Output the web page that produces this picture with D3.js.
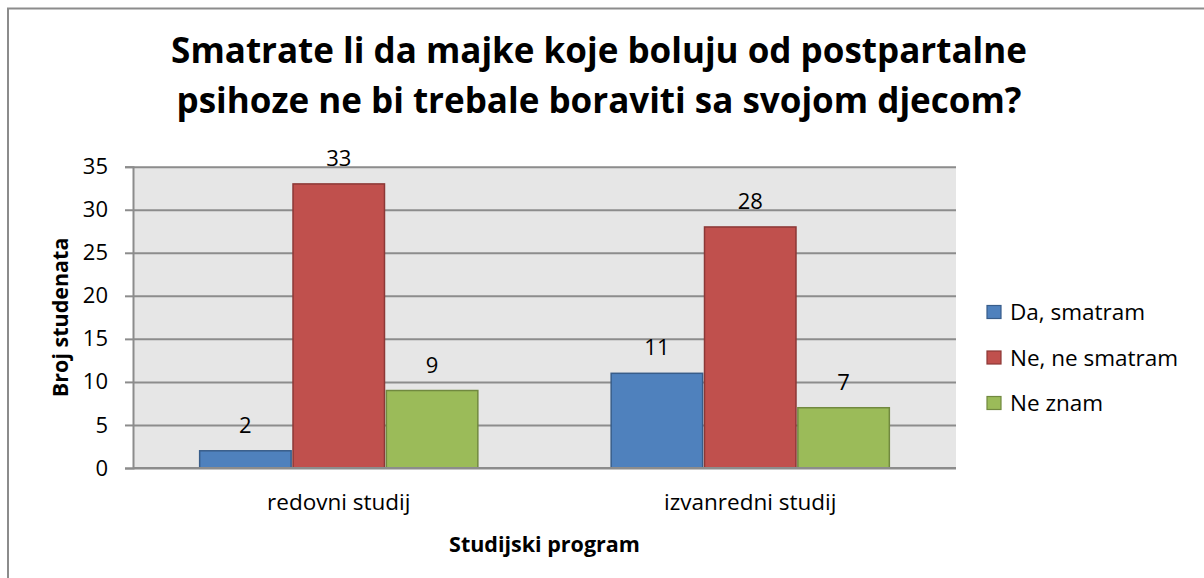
<!DOCTYPE html>
<html>
<head>
<meta charset="utf-8">
<script src="https://cdn.jsdelivr.net/npm/d3@7/dist/d3.min.js"></script>
<style>
  body { margin: 0; background: #fff; }
  svg text { font-family: "Open Sans", "Noto Sans", sans-serif; fill: #000; }
</style>
</head>
<body>
<svg id="chart" width="1204" height="578"></svg>
<script>
var categories = ["redovni studij", "izvanredni studij"];
var seriesNames = ["Da, smatram", "Ne, ne smatram", "Ne znam"];
var daSmatram = [2, 11];
var neSmatram = [33, 28];
var neZnam = [9, 7];
var yTicks = [0, 5, 10, 15, 20, 25, 30, 35];
var titleLines = ["Smatrate li da majke koje boluju od postpartalne",
                  "psihoze ne bi trebale boraviti sa svojom djecom?"];

var fills = ["#4f81bd", "#c0504d", "#9bbb59"];
var strokes = ["#385d8a", "#8c3836", "#71893f"];
var values = [daSmatram, neSmatram, neZnam];

var svg = d3.select("#chart");

// outer chart frame (runs off the right/bottom edge like the source)
svg.append("rect")
  .attr("x", 8).attr("y", 8.5)
  .attr("width", 1300).attr("height", 700)
  .attr("fill", "#fff").attr("stroke", "#8c8c8c").attr("stroke-width", 2);

var pLeft = 133, pRight = 956, pTop = 166.7, pBottom = 468;

var y = d3.scaleLinear().domain([0, 35]).range([pBottom, pTop]);
var x0 = d3.scaleBand().domain(categories).range([pLeft, pRight])
  .paddingInner(0.324).paddingOuter(0.162);
var x1 = d3.scaleBand().domain(d3.range(seriesNames.length))
  .range([0, x0.bandwidth()]).paddingInner(0.02);

// plot background
svg.append("rect")
  .attr("x", pLeft).attr("y", pTop)
  .attr("width", pRight - pLeft).attr("height", pBottom - pTop)
  .attr("fill", "#e6e6e6");

// gridlines
svg.append("g")
  .attr("transform", "translate(" + pLeft + ",0)")
  .call(d3.axisLeft(y).tickValues(yTicks).tickSize(-(pRight - pLeft)).tickFormat(""))
  .call(function(g) {
    g.select(".domain").remove();
    g.selectAll("line").attr("stroke", "#8c8c8c").attr("stroke-width", 2);
  });

// y axis with outside ticks
svg.append("g")
  .attr("transform", "translate(" + pLeft + ",0)")
  .call(d3.axisLeft(y).tickValues(yTicks).tickSize(8).tickPadding(17))
  .call(function(g) {
    g.select(".domain").attr("stroke", "#8c8c8c").attr("stroke-width", 2);
    g.selectAll("line").attr("stroke", "#8c8c8c").attr("stroke-width", 2);
    g.selectAll("text").attr("font-size", 22).attr("font-family", null).attr("fill", "#000");
  });

// bars
var groups = svg.selectAll(".cat")
  .data(categories)
  .enter().append("g")
  .attr("class", "cat")
  .attr("transform", function(d) { return "translate(" + x0(d) + ",0)"; });

function rowOf(d, i) {
  return values.map(function(v, s) { return { s: s, v: v[i] }; });
}

groups.selectAll("rect")
  .data(rowOf)
  .enter().append("rect")
  .attr("x", function(d) { return x1(d.s); })
  .attr("y", function(d) { return y(d.v); })
  .attr("width", x1.bandwidth())
  .attr("height", function(d) { return pBottom - y(d.v); })
  .attr("fill", function(d) { return fills[d.s]; })
  .attr("stroke", function(d) { return strokes[d.s]; })
  .attr("stroke-width", 1.5);

groups.selectAll(".lbl")
  .data(rowOf)
  .enter().append("text")
  .attr("class", "lbl")
  .attr("x", function(d) { return x1(d.s) + x1.bandwidth() / 2; })
  .attr("y", function(d) { return y(d.v) - 18; })
  .attr("text-anchor", "middle")
  .attr("font-size", 22)
  .text(function(d) { return d.v; });

// x axis
svg.append("g")
  .attr("transform", "translate(0," + pBottom + ")")
  .call(d3.axisBottom(x0).tickSize(0).tickPadding(0))
  .call(function(g) {
    g.select(".domain").attr("d", "M" + pLeft + ",0H" + pRight).attr("stroke", "#8c8c8c").attr("stroke-width", 2);
    g.selectAll("text").attr("font-size", 22.5).attr("font-family", null).attr("fill", "#000")
      .attr("dy", null).attr("y", 42);
  });

// title
svg.append("g").selectAll("text")
  .data(titleLines)
  .enter().append("text")
  .attr("x", 599)
  .attr("y", function(d, i) { return 63 + i * 50; })
  .attr("text-anchor", "middle")
  .attr("font-size", 35)
  .attr("font-weight", "bold")
  .text(function(d) { return d; });

// axis titles
svg.append("text")
  .attr("x", (pLeft + pRight) / 2).attr("y", 552)
  .attr("text-anchor", "middle")
  .attr("font-size", 21.5).attr("font-weight", "bold")
  .text("Studijski program");

svg.append("text")
  .attr("transform", "translate(68," + (pTop + pBottom) / 2 + ") rotate(-90)")
  .attr("text-anchor", "middle")
  .attr("font-size", 21.5).attr("font-weight", "bold")
  .text("Broj studenata");

// legend
var legend = svg.append("g").attr("transform", "translate(987,312)");
var item = legend.selectAll("g")
  .data(seriesNames)
  .enter().append("g")
  .attr("transform", function(d, i) { return "translate(0," + i * 45.5 + ")"; });
item.append("rect")
  .attr("x", 0).attr("y", -6.5).attr("width", 14).attr("height", 13)
  .attr("fill", function(d, i) { return fills[i]; })
  .attr("stroke", function(d, i) { return strokes[i]; })
  .attr("stroke-width", 1.2);
item.append("text")
  .attr("x", 23).attr("y", 8)
  .attr("font-size", 22.5)
  .text(function(d) { return d; });
</script>
</body>
</html>
